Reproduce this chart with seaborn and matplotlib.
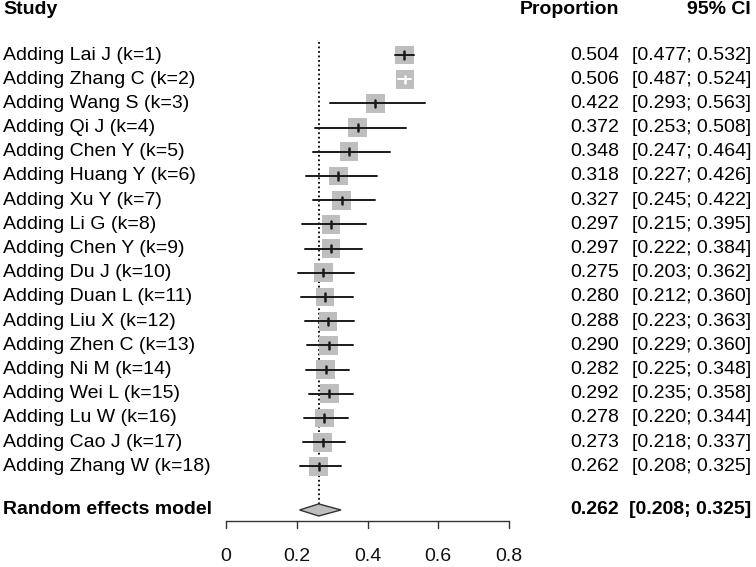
import pandas as pd
import matplotlib.pyplot as plt
import seaborn as sns
import numpy as np

studies = ["Adding Lai J (k=1)", "Adding Zhang C (k=2)", "Adding Wang S (k=3)",
           "Adding Qi J (k=4)", "Adding Chen Y (k=5)", "Adding Huang Y (k=6)",
           "Adding Xu Y (k=7)", "Adding Li G (k=8)", "Adding Chen Y (k=9)",
           "Adding Du J (k=10)", "Adding Duan L (k=11)", "Adding Liu X (k=12)",
           "Adding Zhen C (k=13)", "Adding Ni M (k=14)", "Adding Wei L (k=15)",
           "Adding Lu W (k=16)", "Adding Cao J (k=17)", "Adding Zhang W (k=18)"]
prop = [0.504, 0.506, 0.422, 0.372, 0.348, 0.318, 0.327, 0.297, 0.297,
        0.275, 0.280, 0.288, 0.290, 0.282, 0.292, 0.278, 0.273, 0.262]
lower = [0.477, 0.487, 0.293, 0.253, 0.247, 0.227, 0.245, 0.215, 0.222,
         0.203, 0.212, 0.223, 0.229, 0.225, 0.235, 0.220, 0.218, 0.208]
upper = [0.532, 0.524, 0.563, 0.508, 0.464, 0.426, 0.422, 0.395, 0.384,
         0.362, 0.360, 0.363, 0.360, 0.348, 0.358, 0.344, 0.337, 0.325]
pooled = (0.262, 0.208, 0.325)
xticks = [0, 0.2, 0.4, 0.6, 0.8]

df = pd.DataFrame({"study": studies, "prop": prop, "lower": lower, "upper": upper})
df["row"] = np.arange(len(df))

sns.set_theme(style="white")
plt.rcParams['font.family'] = ['Liberation Sans', 'DejaVu Sans']

fig = plt.figure(figsize=(7.56, 5.67), dpi=100)
ax = fig.add_axes([0, 0, 1, 1])
# 0 -> 226px, 0.8 -> 509px ; rows 24.2px apart, first row at 55px
px = 353.75
ax.set_xlim(-226 / px, (756 - 226) / px)
ax.set_ylim((567 - 55) / 24.2, -55 / 24.2)
ax.axis("off")

sq = 18 / px
re_y = 18.8

# dotted line at the pooled estimate
ax.plot([pooled[0], pooled[0]], [-0.55, re_y - 0.25], color="black", lw=1.3, ls=(0, (1, 1.5)), zorder=1)

sns.scatterplot(data=df, x="prop", y="row", marker="s", s=180, color="#bebebe",
                edgecolor="none", ax=ax, zorder=2, legend=False)

for _, r in df.iterrows():
    inside = (r["lower"] >= r["prop"] - sq / 2) and (r["upper"] <= r["prop"] + sq / 2)
    c = "white" if inside else "#1a1a1a"
    ax.plot([r["lower"], r["upper"]], [r["row"], r["row"]], color=c, lw=1.4, zorder=3)
    ax.plot([r["prop"], r["prop"]], [r["row"] - 0.15, r["row"] + 0.15], color=c, lw=1.8, zorder=3)

# diamond
p, lo, hi = pooled
ax.fill([lo, p, hi, p], [re_y, re_y - 0.25, re_y, re_y + 0.25], facecolor="#bebebe",
        edgecolor="#333333", lw=1.0, zorder=3)

# x axis
ax_y = (521 - 55) / 24.2
tick_len = 7 / 24.2
ax.plot([0, 0.8], [ax_y, ax_y], color="#333333", lw=1.0)
for t in xticks:
    ax.plot([t, t], [ax_y, ax_y + tick_len], color="#333333", lw=1.0)
    ax.text(t, (557 - 55) / 24.2, f"{t:g}", ha="center", va="center", fontsize=14, color="#111111")

# text columns
fs = 14
left_x = -223 / px
prop_x = (619 - 226) / px
ci_x = (751 - 226) / px
head_y = (10 - 55) / 24.2
ax.text(left_x, head_y, "Study", ha="left", va="center", fontsize=fs, fontweight="bold", color="black")
ax.text(prop_x, head_y, "Proportion", ha="right", va="center", fontsize=fs, fontweight="bold", color="black")
ax.text(ci_x, head_y, "95% CI", ha="right", va="center", fontsize=fs, fontweight="bold", color="black")

for _, r in df.iterrows():
    ax.text(left_x, r["row"], r["study"], ha="left", va="center", fontsize=fs, color="black")
    ax.text(prop_x, r["row"], f"{r['prop']:.3f}", ha="right", va="center", fontsize=fs, color="black")
    ax.text(ci_x, r["row"], f"[{r['lower']:.3f}; {r['upper']:.3f}]", ha="right", va="center",
            fontsize=fs, color="black")

ax.text(left_x, re_y, "Random effects model", ha="left", va="center", fontsize=fs, fontweight="bold", color="black")
ax.text(prop_x, re_y, f"{p:.3f}", ha="right", va="center", fontsize=fs, fontweight="bold", color="black")
ax.text(ci_x, re_y, f"[{lo:.3f}; {hi:.3f}]", ha="right", va="center", fontsize=fs, fontweight="bold", color="black")

plt.savefig("out.png", dpi=100)
plt.close()
